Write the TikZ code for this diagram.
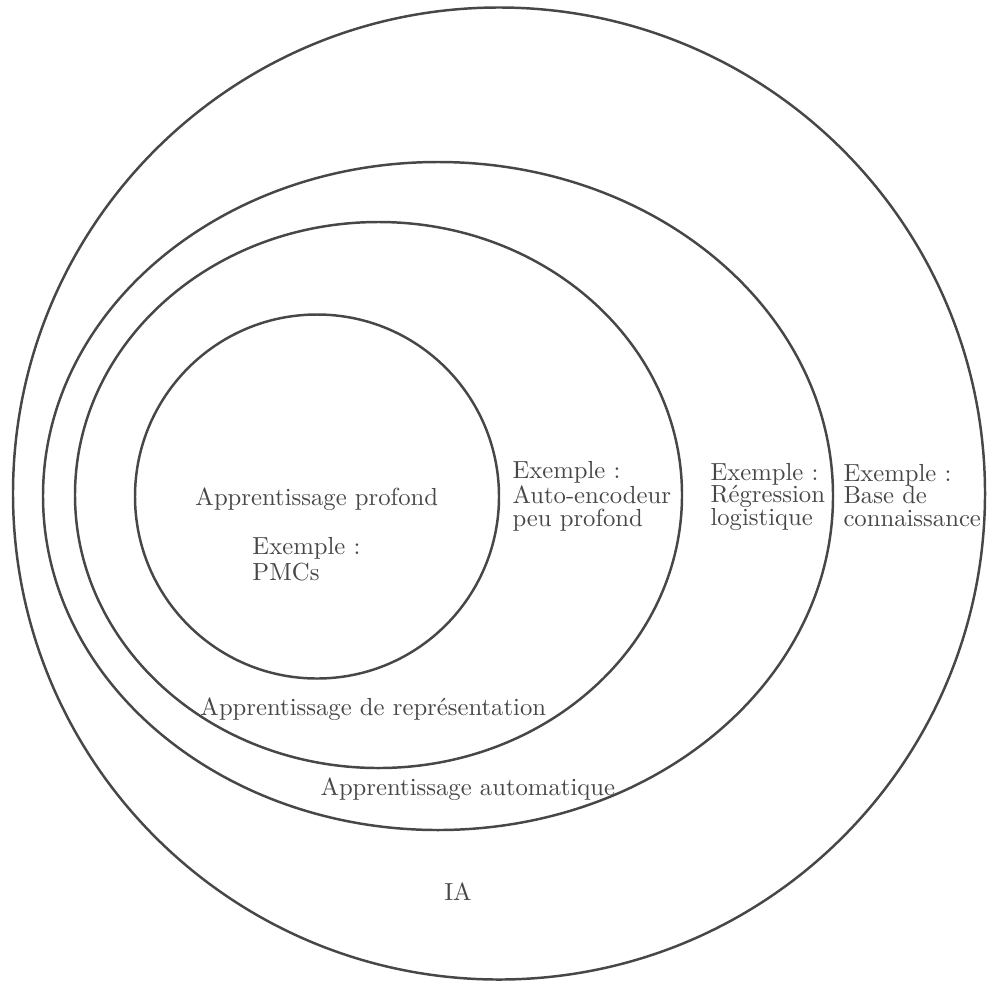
\documentclass[tikz,border=0pt]{standalone}
\begin{document}
\begin{tikzpicture}[x=0.405pt,y=-0.405pt,
  ring/.style={line width=1pt, draw=black!72},
  lbl/.style={inner sep=0pt, text=black!72, font=\fontsize{10}{9}\selectfont, align=left, anchor=base west}]
\useasboundingbox (0,0) rectangle (988,981);
\draw[ring] (499,493.5) circle [radius=486];
\draw[ring] (438,496) ellipse [x radius=395, y radius=334];
\draw[ring] (378.5,495) ellipse [x radius=303.5, y radius=273];
\draw[ring] (317,496.5) circle [radius=182];
\node[lbl] (profond) at (195,505) {Apprentissage profond};
\node[lbl, font=\fontsize{10}{10.5}\selectfont] (pmc) at (252,580) {Exemple :\\PMCs};
\node[lbl] (auto) at (512,526) {Exemple :\\Auto-encodeur\\peu profond};
\node[lbl] (regr) at (710,525) {Exemple :\\R\'egression\\logistique};
\node[lbl] (base) at (843,526) {Exemple :\\Base de\\connaissance};
\node[lbl] (repr) at (200,715) {Apprentissage de repr\'esentation};
\node[lbl] (autom) at (320,795) {Apprentissage automatique};
\node[lbl, anchor=base] (ia) at (458,900) {IA};
\end{tikzpicture}
\end{document}
